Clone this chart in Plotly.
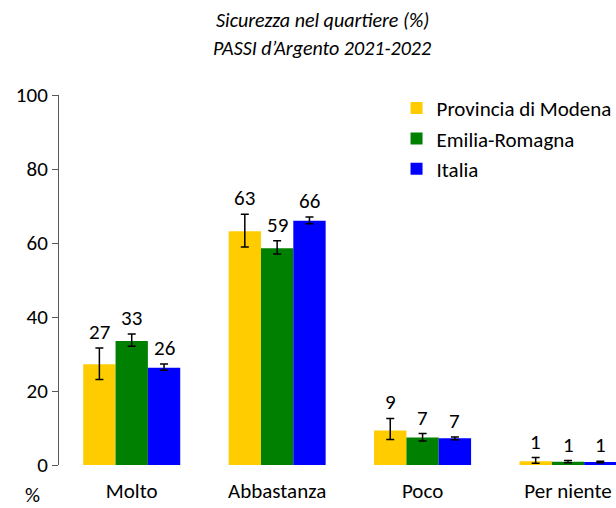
import plotly.graph_objects as go

categories = ["Molto", "Abbastanza", "Poco", "Per niente"]
series_names = ["Provincia di Modena", "Emilia-Romagna", "Italia"]
colors = ["#FFCC00", "#008000", "#0000FF"]

modena = [27.2, 63.2, 9.3, 1.0]
modena_lo = [23.1, 58.9, 6.9, 0.5]
modena_hi = [31.6, 67.8, 12.6, 2.0]

emilia = [33.5, 58.6, 7.4, 0.9]
emilia_lo = [32.1, 57.0, 6.5, 0.6]
emilia_hi = [35.4, 60.6, 8.5, 1.2]

italia = [26.3, 66.0, 7.2, 0.8]
italia_lo = [25.6, 65.2, 6.8, 0.6]
italia_hi = [27.3, 67.0, 7.6, 1.0]

labels = [
    ["27", "63", "9", "1"],
    ["33", "59", "7", "1"],
    ["26", "66", "7", "1"],
]

values = [modena, emilia, italia]
lows = [modena_lo, emilia_lo, italia_lo]
highs = [modena_hi, emilia_hi, italia_hi]

FONT = "Carlito, Lato, sans-serif"
FS = 21

fig = go.Figure()
for name, col, v, lo, hi in zip(series_names, colors, values, lows, highs):
    fig.add_trace(go.Bar(
        name=name, x=categories, y=v, marker_color=col,
        marker_line_width=0,
        error_y=dict(type="data", symmetric=False,
                     array=[h - a for h, a in zip(hi, v)],
                     arrayminus=[a - l for a, l in zip(v, lo)],
                     color="black", thickness=1.5, width=4),
    ))

# data labels above the error bars
nser = len(series_names)
bargap = 0.333
group_w = 1 - bargap
bw = group_w / nser
for si in range(nser):
    for ci, cat in enumerate(categories):
        xpos = ci - group_w / 2 + bw * (si + 0.5)
        fig.add_annotation(x=xpos, y=highs[si][ci], text=labels[si][ci],
                           showarrow=False, yanchor="middle", yshift=16,
                           font=dict(family=FONT, size=FS, color="black"))

fig.add_annotation(xref="paper", yref="paper", x=-0.048, y=-0.08,
                   xanchor="center", yanchor="middle", text="%",
                   showarrow=False, font=dict(family=FONT, size=FS, color="black"))

# two-line italic title
fig.add_annotation(xref="paper", yref="paper", x=(322 - 59) / 557, y=(465 - 20) / 370,
                   xanchor="center", yanchor="middle", showarrow=False,
                   text="<i>Sicurezza nel quartiere (%)</i>",
                   font=dict(family=FONT, size=20, color="black"))
fig.add_annotation(xref="paper", yref="paper", x=(322 - 59) / 557, y=(465 - 48) / 370,
                   xanchor="center", yanchor="middle", showarrow=False,
                   text="<i>PASSI d’Argento 2021-2022</i>",
                   font=dict(family=FONT, size=20, color="black"))

fig.update_layout(
    width=616, height=508,
    margin=dict(l=59, r=0, t=95, b=43, autoexpand=False),
    paper_bgcolor="white", plot_bgcolor="white",
    barmode="group", bargap=bargap, bargroupgap=0,
    font=dict(family=FONT, size=FS, color="black"),
    legend=dict(x=0.606, xanchor="left", y=1.019, yanchor="top",
                bgcolor="rgba(0,0,0,0)", font=dict(family=FONT, size=FS),
                itemclick=False),
    xaxis=dict(range=[-0.5, 3.33], showline=False, ticks="",
               ticklabelstandoff=11,
               tickfont=dict(family=FONT, size=FS), fixedrange=True),
    yaxis=dict(range=[0, 100], dtick=20, showgrid=False, zeroline=False,
               showline=True, linecolor="#595959", linewidth=1,
               ticks="outside", ticklen=6, tickcolor="#595959",
               tickfont=dict(family=FONT, size=FS), fixedrange=True),
)

fig.write_html("out.html", config={"displayModeBar": False},
               post_script="document.body.style.margin='0';document.body.style.overflow='hidden';")
